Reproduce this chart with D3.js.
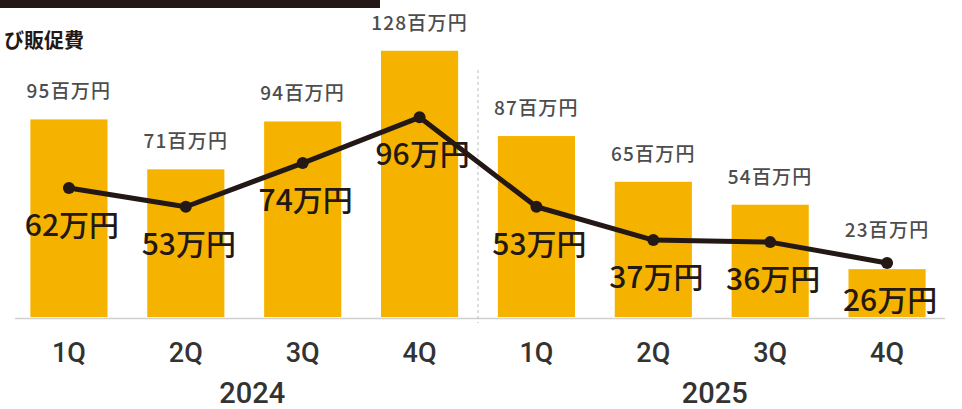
<!DOCTYPE html>
<html>
<head>
<meta charset="utf-8">
<script src="https://cdn.jsdelivr.net/npm/d3@7"></script>
<style>
  body { margin: 0; background: #fff; overflow: hidden; }
  svg { display: block; }
  .bar-label { font-family: "Noto Sans CJK JP", sans-serif; font-size: 19px; font-weight: 500; fill: #4d4d4d; letter-spacing: 1.2px; }
  .line-label { font-family: "Noto Sans CJK JP", sans-serif; font-size: 30px; font-weight: 500; fill: #231815; }
  .q-label { font-family: Roboto, sans-serif; font-size: 27px; font-weight: 500; fill: #333; }
  .year-label { font-family: Roboto, sans-serif; font-size: 29px; font-weight: 500; fill: #333; }
  .title { font-family: "Noto Sans CJK JP", sans-serif; font-size: 20px; font-weight: 700; fill: #231815; }
</style>
</head>
<body>
<svg id="chart"></svg>
<script>
// quarters, two fiscal years
const quarters = ["1Q", "2Q", "3Q", "4Q", "1Q", "2Q", "3Q", "4Q"];
const years = ["2024", "2025"];
// bars: 百万円
const salesValues = [95, 71, 94, 128, 87, 65, 54, 23];
// line: 万円
const lineValues = [62, 53, 74, 96, 53, 37, 36, 26];
const titleText = "び販促費";

const width = 962, height = 409;
const baseY = 317;

const svg = d3.select('#chart')
    .attr('width', width)
    .attr('height', height);

const keys = quarters.map((q, i) => `${years[Math.floor(i / 4)]}-${q}`);

const xScale = d3.scaleBand()
    .domain(keys)
    .range([10.5, 945.5])
    .paddingInner(0.34)
    .paddingOuter(0.17);

const yScale = d3.scaleLinear()
    .domain([0, 140])
    .range([baseY, baseY - 140 * 2.08]);

const cx = i => xScale(keys[i]) + xScale.bandwidth() / 2;

// header strip and title
svg.append('rect')
    .attr('x', 0).attr('y', 0)
    .attr('width', 380).attr('height', 8)
    .attr('fill', '#231815');

svg.append('text')
    .attr('class', 'title')
    .attr('x', 4)
    .attr('y', 48)
    .text(titleText);

// baseline
svg.append('line')
    .attr('x1', 15).attr('x2', 945)
    .attr('y1', baseY + 1.5).attr('y2', baseY + 1.5)
    .attr('stroke', '#d0d0d0')
    .attr('stroke-width', 1.5);

// year divider
const divX = (cx(3) + cx(4)) / 2;
svg.append('line')
    .attr('x1', divX).attr('x2', divX)
    .attr('y1', 70).attr('y2', 323)
    .attr('stroke', '#bbb')
    .attr('stroke-width', 1)
    .attr('stroke-dasharray', '3,3');

// bars
svg.selectAll('.bar')
    .data(salesValues)
    .join('rect')
    .attr('class', 'bar')
    .attr('x', (d, i) => xScale(keys[i]))
    .attr('y', d => yScale(d))
    .attr('width', xScale.bandwidth())
    .attr('height', d => baseY - yScale(d))
    .attr('fill', '#f5b300');

// bar value labels (lifted above the line point if it is close)
svg.selectAll('.bar-label')
    .data(salesValues)
    .join('text')
    .attr('class', 'bar-label')
    .attr('x', (d, i) => cx(i))
    .attr('y', (d, i) => Math.min(yScale(d) - 21, yScale(lineValues[i]) - 26))
    .attr('text-anchor', 'middle')
    .text(d => `${d}百万円`);

// line
const line = d3.line()
    .x((d, i) => cx(i))
    .y(d => yScale(d));

svg.append('path')
    .datum(lineValues)
    .attr('d', line)
    .attr('fill', 'none')
    .attr('stroke', '#231815')
    .attr('stroke-width', 5)
    .attr('stroke-linejoin', 'round');

svg.selectAll('.dot')
    .data(lineValues)
    .join('circle')
    .attr('class', 'dot')
    .attr('cx', (d, i) => cx(i))
    .attr('cy', d => yScale(d))
    .attr('r', 6)
    .attr('fill', '#231815');

svg.selectAll('.line-label')
    .data(lineValues)
    .join('text')
    .attr('class', 'line-label')
    .attr('x', (d, i) => cx(i) + 3)
    .attr('y', d => yScale(d) + 48)
    .attr('text-anchor', 'middle')
    .text(d => `${d}万円`);

// x axis labels
const xAxis = d3.axisBottom(xScale)
    .tickSize(0)
    .tickFormat((d, i) => quarters[i]);

const xAxisG = svg.append('g')
    .attr('transform', `translate(0,${baseY})`)
    .call(xAxis);
xAxisG.select('.domain').remove();
xAxisG.selectAll('text')
    .attr('class', 'q-label')
    .attr('fill', null)
    .attr('font-size', null)
    .attr('font-family', null)
    .attr('y', 45)
    .attr('dy', null);

svg.selectAll('.year-label')
    .data(years)
    .join('text')
    .attr('class', 'year-label')
    .attr('x', (d, i) => (cx(i * 4) + cx(i * 4 + 3)) / 2 + (i === 0 ? 8 : 3))
    .attr('y', 403)
    .attr('text-anchor', 'middle')
    .text(d => d);
</script>
</body>
</html>
